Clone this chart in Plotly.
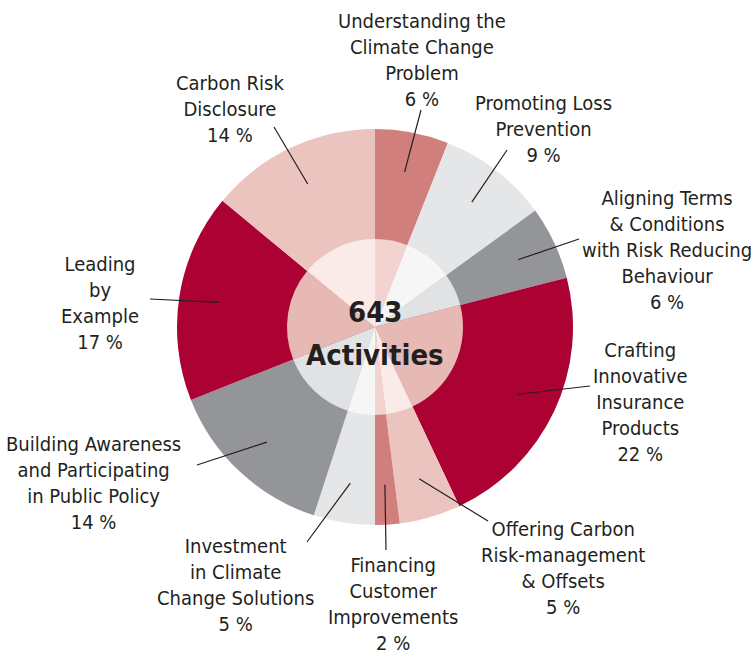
import math
import plotly.graph_objects as go

W, H = 752, 654

categories = [
    "Understanding the<br>Climate Change<br>Problem",
    "Promoting Loss<br>Prevention",
    "Aligning Terms<br>& Conditions<br>with Risk Reducing<br>Behaviour",
    "Crafting<br>Innovative<br>Insurance<br>Products",
    "Offering Carbon<br>Risk-management<br>& Offsets",
    "Financing<br>Customer<br>Improvements",
    "Investment<br>in Climate<br>Change Solutions",
    "Building Awareness<br>and Participating<br>in Public Policy",
    "Leading<br>by<br>Example",
    "Carbon Risk<br>Disclosure",
]
values = [6, 9, 6, 22, 5, 2, 5, 14, 17, 14]
total_activities = 643

outer_colors = ["#D17F7C", "#E5E6E8", "#939598", "#AB0233", "#EBC4BF",
                "#D17F7C", "#E5E6E8", "#939598", "#AB0233", "#EBC4BF"]
inner_colors = ["#F2D3D0", "#F6F6F7", "#E1E2E4", "#E6B9B4", "#FAEAE8",
                "#F2D3D0", "#F6F6F7", "#E1E2E4", "#E6B9B4", "#FAEAE8"]

# layout (pixels): label centres and leader-line outer ends
label_pos = [(422, 60), (543, 129), (667, 250), (640, 402), (563, 568),
             (393, 604), (235, 585), (93, 483), (100, 303), (230, 109)]
leader_out = [(421, 110), (507, 150), (579, 239), (590, 386), (488, 521),
              (386, 550), (307, 542), (197, 465), (150, 299), (274, 127)]

CX, CY, R_OUT, R_IN, R_LEAD = 375, 327, 198, 88, 158
FONT = "DejaVu Sans Condensed, Liberation Sans Narrow, sans-serif"
TXT = "#231F20"

def px(x):
    return x / W

def py(y):
    return 1 - y / H

fig = go.Figure()
fig.add_trace(go.Pie(
    values=values, labels=[c.replace("<br>", " ") for c in categories],
    sort=False, direction="clockwise", rotation=0,
    marker=dict(colors=outer_colors, line=dict(width=0)),
    textinfo="none", hoverinfo="label+percent", showlegend=False,
    domain=dict(x=[px(CX - R_OUT), px(CX + R_OUT)], y=[py(CY + R_OUT), py(CY - R_OUT)]),
))
fig.add_trace(go.Pie(
    values=values, labels=[c.replace("<br>", " ") for c in categories],
    sort=False, direction="clockwise", rotation=0,
    marker=dict(colors=inner_colors, line=dict(width=0)),
    textinfo="none", hoverinfo="label+percent", showlegend=False,
    domain=dict(x=[px(CX - R_IN), px(CX + R_IN)], y=[py(CY + R_IN), py(CY - R_IN)]),
))

annotations = []
shapes = []
tot = sum(values)
cum = 0
for cat, v, (lx, ly), (ox, oy) in zip(categories, values, label_pos, leader_out):
    mid = (cum + v / 2) / tot * 2 * math.pi
    cum += v
    ix = CX + R_LEAD * math.sin(mid)
    iy = CY - R_LEAD * math.cos(mid)
    shapes.append(dict(type="line", xref="paper", yref="paper",
                       x0=px(ox), y0=py(oy), x1=px(ix), y1=py(iy),
                       line=dict(color=TXT, width=1.2)))
    annotations.append(dict(text=f"{cat}<br>{v} %", x=px(lx), y=py(ly),
                            xref="paper", yref="paper", xanchor="center", yanchor="middle",
                            showarrow=False, align="center",
                            font=dict(family=FONT, size=20, color=TXT)))

annotations.append(dict(text=f"<b>{total_activities}</b>", x=px(CX), y=py(312), xref="paper", yref="paper",
                        showarrow=False, font=dict(family=FONT, size=29, color=TXT)))
annotations.append(dict(text="<b>Activities</b>", x=px(CX), y=py(355), xref="paper", yref="paper",
                        showarrow=False, font=dict(family=FONT, size=29, color=TXT)))

fig.update_layout(width=W, height=H, margin=dict(l=0, r=0, t=0, b=0),
                  paper_bgcolor="white", plot_bgcolor="white",
                  annotations=annotations, shapes=shapes)
fig.write_html("out.html", config={"displayModeBar": False},
               post_script="document.body.style.margin='0';")
